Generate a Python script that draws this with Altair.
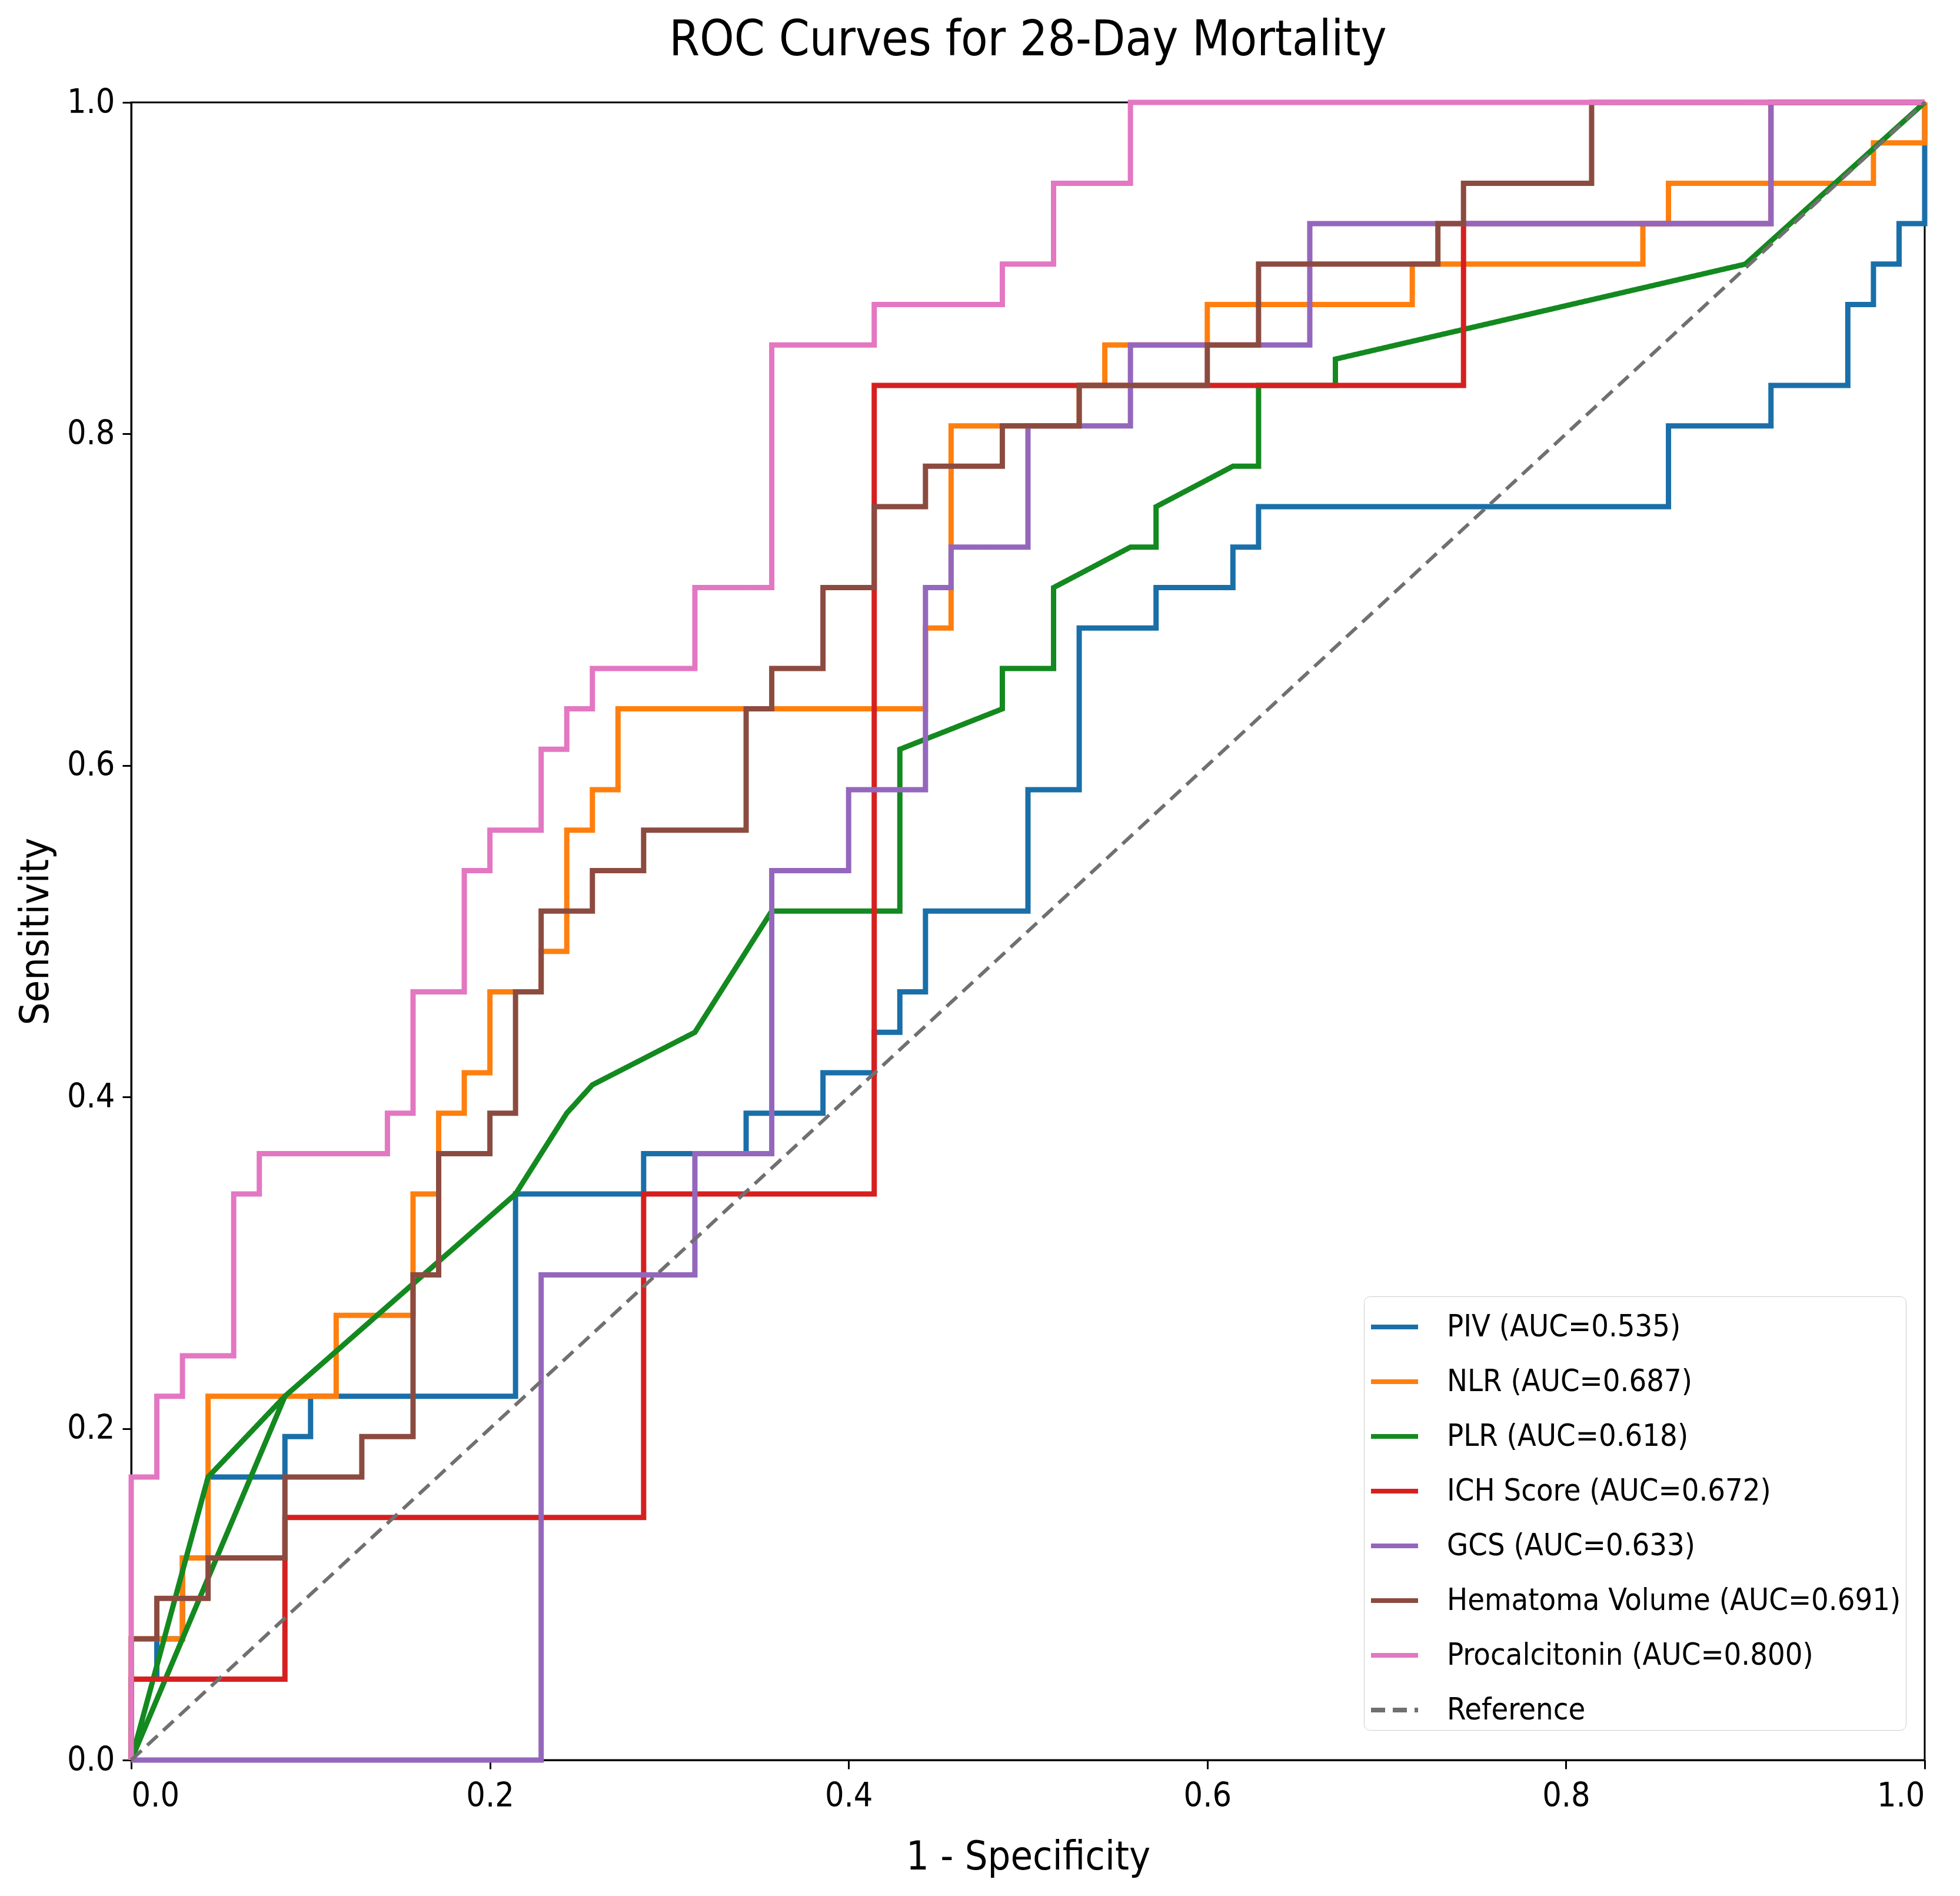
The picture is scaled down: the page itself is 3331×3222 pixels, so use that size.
import altair as alt
import pandas as pd

# Counts: false positives out of 70 negatives, true positives out of 41 positives
N_NEG = 70
N_POS = 41

title_text = ["ROC Curves for 28-Day Mortality"]

labels = [
    "PIV (AUC=0.535)",
    "NLR (AUC=0.687)",
    "PLR (AUC=0.618)",
    "ICH Score (AUC=0.672)",
    "GCS (AUC=0.633)",
    "Hematoma Volume (AUC=0.691)",
    "Procalcitonin (AUC=0.800)",
    "Reference",
]
colors = ["#1a6fa8", "#ff7f0e", "#13891f", "#d62020", "#9467bd", "#8c4b40", "#e377c2", "#707070"]

piv_fp = [0, 0, 1, 1, 2, 2, 3, 3, 6, 6, 7, 7, 15, 15, 20, 20, 24, 24, 27, 27, 29, 29, 30, 30,
          31, 31, 35, 35, 37, 37, 40, 40, 43, 43, 44, 44, 60, 60, 64, 64, 67, 67, 68, 68, 69, 69, 70, 70]
piv_tp = [0, 2, 2, 3, 3, 5, 5, 7, 7, 8, 8, 9, 9, 14, 14, 15, 15, 16, 16, 17, 17, 18, 18, 19,
          19, 21, 21, 24, 24, 28, 28, 29, 29, 30, 30, 31, 31, 33, 33, 34, 34, 36, 36, 37, 37, 38, 38, 41]

nlr_fp = [0, 0, 2, 2, 3, 3, 8, 8, 11, 11, 12, 12, 13, 13, 14, 14, 16, 16, 17, 17, 18, 18, 19, 19,
          31, 31, 32, 32, 37, 37, 38, 38, 42, 42, 50, 50, 59, 59, 60, 60, 68, 68, 70, 70]
nlr_tp = [0, 3, 3, 5, 5, 9, 9, 11, 11, 14, 14, 16, 16, 17, 17, 19, 19, 20, 20, 23, 23, 24, 24, 26,
          26, 28, 28, 33, 33, 34, 34, 35, 35, 36, 36, 37, 37, 38, 38, 39, 39, 40, 40, 41]

plr_fp = [6, 3, 0, 6, 15, 17, 18, 22, 23, 25, 30, 30, 34, 34, 36, 36, 39, 40, 40, 43, 44, 44, 47, 47, 63, 70]
plr_tp = [9, 7, 0, 9, 14, 16, 16.7, 18, 19, 21, 21, 25, 26, 27, 27, 29, 30, 30, 31, 32, 32, 34, 34, 34.65, 37, 41]

ich_fp = [0, 0, 6, 6, 20, 20, 29, 29, 52, 52, 64, 64, 70]
ich_tp = [0, 2, 2, 6, 6, 14, 14, 34, 34, 38, 38, 41, 41]

gcs_fp = [0, 16, 16, 22, 22, 25, 25, 28, 28, 31, 31, 32, 32, 35, 35, 39, 39, 46, 46, 64, 64, 70]
gcs_tp = [0, 0, 12, 12, 15, 15, 22, 22, 24, 24, 29, 29, 30, 30, 33, 33, 35, 35, 38, 38, 41, 41]

hem_fp = [0, 0, 1, 1, 3, 3, 6, 6, 9, 9, 11, 11, 12, 12, 14, 14, 15, 15, 16, 16, 18, 18, 20, 20,
          24, 24, 25, 25, 27, 27, 29, 29, 31, 31, 34, 34, 37, 37, 42, 42, 44, 44, 51, 51, 52, 52, 57, 57, 70]
hem_tp = [0, 3, 3, 4, 4, 5, 5, 7, 7, 8, 8, 12, 12, 15, 15, 16, 16, 19, 19, 21, 21, 22, 22, 23,
          23, 26, 26, 27, 27, 29, 29, 31, 31, 32, 32, 33, 33, 34, 34, 35, 35, 37, 37, 38, 38, 39, 39, 41, 41]

pct_fp = [0, 0, 1, 1, 2, 2, 4, 4, 5, 5, 10, 10, 11, 11, 13, 13, 14, 14, 16, 16, 17, 17, 18, 18,
          22, 22, 25, 25, 29, 29, 34, 34, 36, 36, 39, 39, 70]
pct_tp = [0, 7, 7, 9, 9, 10, 10, 14, 14, 15, 15, 16, 16, 19, 19, 22, 22, 23, 23, 25, 25, 26, 26, 27,
          27, 29, 29, 35, 35, 36, 36, 37, 37, 39, 39, 41, 41]

ref_fp = [0, 70]
ref_tp = [0, 41]

series_fp = [piv_fp, nlr_fp, plr_fp, ich_fp, gcs_fp, hem_fp, pct_fp, ref_fp]
series_tp = [piv_tp, nlr_tp, plr_tp, ich_tp, gcs_tp, hem_tp, pct_tp, ref_tp]

rows = []
for lab, fps, tps in zip(labels, series_fp, series_tp):
    for i, (fp, tp) in enumerate(zip(fps, tps)):
        rows.append({"series": lab, "fpr": fp / N_NEG, "tpr": tp / N_POS, "idx": i})
df = pd.DataFrame(rows)

F = "DejaVu Sans Condensed, DejaVu Sans"
dashes = [[1, 0]] * 7 + [[24, 13]]
ticks = [0.0, 0.2, 0.4, 0.6, 0.8, 1.0]
W, H = 3048, 2817

legend = alt.Legend(
    title=None, orient="none", legendX=2095, legendY=2029,
    symbolType="stroke", symbolSize=6400, symbolStrokeWidth=8,
    labelFont=F, labelFontSize=52, labelColor="black", labelLimit=0, labelOffset=45,
    padding=8, strokeColor="#cccccc", cornerRadius=10, fillColor="white", rowPadding=23,
)

x_enc = alt.X("fpr:Q", scale=alt.Scale(domain=[0, 1], nice=False, zero=False),
              axis=alt.Axis(values=ticks, format=".1f", title="1 - Specificity",
                            labelPadding=18, titlePadding=42))
y_enc = alt.Y("tpr:Q", scale=alt.Scale(domain=[0, 1], nice=False, zero=False),
              axis=alt.Axis(values=ticks, format=".1f", title="Sensitivity",
                            labelPadding=13, titlePadding=18))
c_enc = alt.Color("series:N", scale=alt.Scale(domain=labels, range=colors), legend=legend)
d_enc = alt.StrokeDash("series:N", scale=alt.Scale(domain=labels, range=dashes), legend=legend)

layers = []
for lab in labels:
    w = 6 if lab == "Reference" else 9
    layers.append(
        alt.Chart(df)
        .transform_filter(alt.datum.series == lab)
        .mark_line(strokeWidth=w, strokeCap="butt", strokeJoin="miter")
        .encode(x=x_enc, y=y_enc, order="idx:Q", color=c_enc, strokeDash=d_enc)
    )

title_layer = (
    alt.Chart(pd.DataFrame({"t": title_text}))
    .mark_text(font=F, fontSize=83, color="black", align="center", baseline="alphabetic")
    .encode(text="t:N", x=alt.value(W / 2), y=alt.value(-80))
)

chart = (
    alt.layer(*layers, title_layer)
    .properties(
        width=W, height=H,
        autosize=alt.AutoSizeParams(type="none"),
        padding={"left": 215, "top": 166, "right": 52, "bottom": 223},
    )
    .configure_view(stroke="black", strokeWidth=3)
    .configure_axis(
        domainColor="black", domainWidth=3, tickColor="black", tickWidth=3, tickSize=15,
        labelFont=F, labelFontSize=57, labelColor="black",
        titleFont=F, titleFontSize=68, titleFontWeight="normal", titleColor="black", grid=False,
    )
)

chart.save("out.html", embed_options={"renderer": "svg", "actions": False})
